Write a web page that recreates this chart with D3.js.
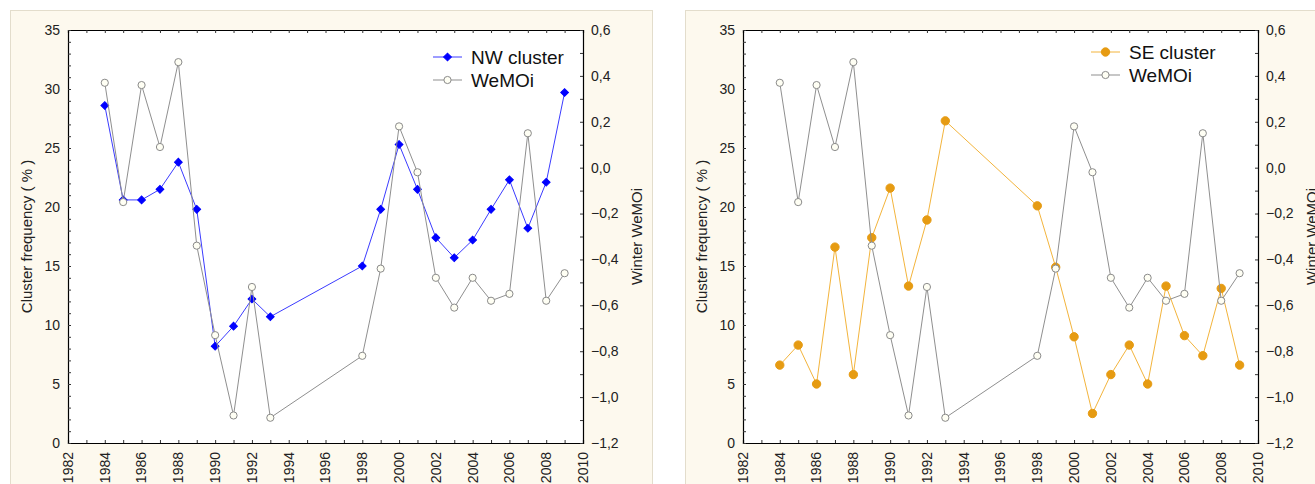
<!DOCTYPE html>
<html>
<head>
<meta charset="utf-8">
<script src="https://cdn.jsdelivr.net/npm/d3@7"></script>
<style>
  body { margin: 0; background: #ffffff; }
  svg { display: block; font-family: "Liberation Sans", Arial, sans-serif; }
</style>
</head>
<body>
<svg id="chart" width="1315" height="484"></svg>
<script>
//Years of the winter series (gap 1994-1997)
var years = [1984, 1985, 1986, 1987, 1988, 1989, 1990, 1991, 1992, 1993,
  1998, 1999, 2000, 2001, 2002, 2003, 2004, 2005, 2006, 2007, 2008, 2009];

//Cluster frequency (%) of the NW cluster
var nwCluster = [28.6, 20.6, 20.6, 21.5, 23.8, 19.8, 8.2, 9.9, 12.2, 10.7,
  15.0, 19.8, 25.3, 21.5, 17.4, 15.7, 17.2, 19.8, 22.3, 18.2, 22.1, 29.7];

//Cluster frequency (%) of the SE cluster
var seCluster = [6.6, 8.3, 5.0, 16.6, 5.8, 17.4, 21.6, 13.3, 18.9, 27.3,
  20.1, 14.9, 9.0, 2.5, 5.8, 8.3, 5.0, 13.3, 9.1, 7.4, 13.1, 6.6];

//Winter WeMO index
var wemoi = [0.37, -0.15, 0.36, 0.09, 0.46, -0.34, -0.73, -1.08, -0.52, -1.09,
  -0.82, -0.44, 0.18, -0.02, -0.48, -0.61, -0.48, -0.58, -0.55, 0.15, -0.58, -0.46];

var xTicks = d3.range(1982, 2011, 2);
var leftTicks = d3.range(0, 36, 5);
var rightTicks = d3.range(-1.2, 0.61, 0.2);

var svg = d3.select("svg#chart");

var plotW = 515, plotH = 413;

var x = d3.scaleLinear().domain([1982, 2010]).range([0, plotW]);
var yLeft = d3.scaleLinear().domain([0, 35]).range([plotH, 0]);
var yRight = d3.scaleLinear().domain([-1.2, 0.6]).range([plotH, 0]);

var fmtRight = function (d) { return d3.format(".1f")(Math.abs(d) < 1e-9 ? 0 : d).replace(".", ","); };

//Draws one panel: cluster series on the left axis, WeMOi on the right axis
function drawPanel(x0, cluster, name, lineColor, markColor, diamond, legendY) {
  var panel = svg.append("g");

  //Cream background of the panel
  panel.append("rect")
    .attr("x", x0 + 0.5).attr("y", 10.5)
    .attr("width", 642).attr("height", 500)
    .attr("fill", "#fdf9ee")
    .attr("stroke", "#e3ddcc");

  var g = panel.append("g").attr("transform", "translate(" + (x0 + 58) + ",30)");

  g.append("rect")
    .attr("width", plotW).attr("height", plotH)
    .attr("fill", "#ffffff");

  //Axes, ticks inside the plot
  g.append("g")
    .attr("transform", "translate(0," + plotH + ")")
    .call(d3.axisTop(x).ticks(28).tickSize(3).tickFormat(""));
  g.append("g")
    .call(d3.axisBottom(x).ticks(28).tickSize(3).tickFormat(""));
  g.append("g")
    .call(d3.axisRight(yLeft).ticks(35).tickSize(3).tickFormat(""));
  g.append("g")
    .attr("transform", "translate(" + plotW + ",0)")
    .call(d3.axisLeft(yRight).ticks(18).tickSize(3).tickFormat(""));
  g.selectAll(".domain").attr("stroke", "#000000").attr("stroke-width", 1.2);
  g.selectAll(".tick line").attr("stroke", "#333333");

  //Tick labels
  g.selectAll(".xlab")
    .data(xTicks)
    .enter().append("text")
      .attr("transform", function (d) { return "translate(" + x(d) + "," + (plotH + 9) + ") rotate(-90)"; })
      .attr("dy", "0.35em")
      .attr("text-anchor", "end")
      .attr("font-size", 14)
      .attr("fill", "#222222")
      .text(function (d) { return d; });

  g.selectAll(".ylab")
    .data(leftTicks)
    .enter().append("text")
      .attr("x", -8)
      .attr("y", function (d) { return yLeft(d); })
      .attr("dy", "0.35em")
      .attr("text-anchor", "end")
      .attr("font-size", 14)
      .attr("fill", "#222222")
      .text(function (d) { return d; });

  g.selectAll(".rlab")
    .data(rightTicks)
    .enter().append("text")
      .attr("x", plotW + 8)
      .attr("y", function (d) { return yRight(d); })
      .attr("dy", "0.35em")
      .attr("font-size", 14)
      .attr("fill", "#222222")
      .text(fmtRight);

  //Axis titles
  g.append("text")
    .attr("transform", "translate(-41," + plotH / 2 + ") rotate(-90)")
    .attr("dy", "0.35em")
    .attr("text-anchor", "middle")
    .attr("font-size", 15)
    .attr("fill", "#222222")
    .text("Cluster frequency ( % )");
  g.append("text")
    .attr("transform", "translate(" + (plotW + 54) + "," + plotH / 2 + ") rotate(-90)")
    .attr("dy", "0.35em")
    .attr("text-anchor", "middle")
    .attr("font-size", 15)
    .attr("fill", "#222222")
    .text("Winter WeMOi");

  var clusterLine = d3.line()
    .x(function (d, i) { return x(years[i]); })
    .y(function (d) { return yLeft(d); });
  var wemoiLine = d3.line()
    .x(function (d, i) { return x(years[i]); })
    .y(function (d) { return yRight(d); });

  var clusterSymbol = diamond ? d3.symbol().type(d3.symbolSquare).size(30) : d3.symbol().type(d3.symbolCircle).size(55);
  var rot = diamond ? " rotate(45)" : "";

  //Cluster series
  g.append("path")
    .datum(cluster)
    .attr("d", clusterLine)
    .attr("fill", "none")
    .attr("stroke", lineColor)
    .attr("stroke-width", 1);
  g.selectAll(".cmark")
    .data(cluster)
    .enter().append("path")
      .attr("d", clusterSymbol)
      .attr("transform", function (d, i) { return "translate(" + x(years[i]) + "," + yLeft(d) + ")" + rot; })
      .attr("fill", markColor)
      .attr("stroke", markColor);

  //WeMOi series
  g.append("path")
    .datum(wemoi)
    .attr("d", wemoiLine)
    .attr("fill", "none")
    .attr("stroke", "#8f8f8f")
    .attr("stroke-width", 1);
  g.selectAll(".wmark")
    .data(wemoi)
    .enter().append("circle")
      .attr("cx", function (d, i) { return x(years[i]); })
      .attr("cy", function (d) { return yRight(d); })
      .attr("r", 3.6)
      .attr("fill", "#fffff4")
      .attr("stroke", "#8a8a8a");

  //Legend
  var legend = [
    { label: name, line: lineColor, mark: markColor, symbol: clusterSymbol, rot: rot },
    { label: "WeMOi", line: "#8f8f8f", mark: null }
  ];
  var lg = panel.selectAll(".legend")
    .data(legend)
    .enter().append("g")
      .attr("transform", function (d, i) { return "translate(" + (x0 + 58 + legendY.x) + "," + (legendY.y + i * 23) + ")"; });
  lg.append("line")
    .attr("x1", 0).attr("x2", 29)
    .attr("stroke", function (d) { return d.line; });
  lg.each(function (d) {
    var s = d3.select(this);
    if (d.mark) {
      s.append("path")
        .attr("d", d.symbol)
        .attr("transform", "translate(14.5,0)" + d.rot)
        .attr("fill", d.mark)
        .attr("stroke", d.mark);
    } else {
      s.append("circle")
        .attr("cx", 14.5).attr("r", 3.6)
        .attr("fill", "#fffff4")
        .attr("stroke", "#8a8a8a");
    }
  });
  lg.append("text")
    .attr("x", 38)
    .attr("dy", "0.35em")
    .attr("font-size", 19)
    .attr("fill", "#111111")
    .text(function (d) { return d.label; });
}

drawPanel(10, nwCluster, "NW cluster", "#3b3bff", "#0000ff", true, { x: 365, y: 57 });
drawPanel(685, seCluster, "SE cluster", "#f3b43c", "#e69b12", false, { x: 348, y: 52 });
</script>
</body>
</html>
